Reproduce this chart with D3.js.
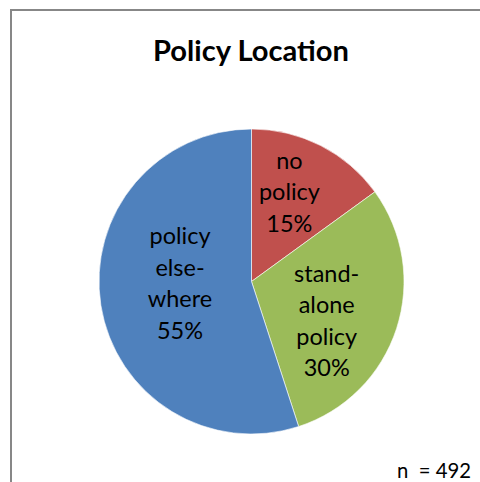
<!DOCTYPE html>
<html><head><meta charset="utf-8">
<script src="https://cdn.jsdelivr.net/npm/d3@7"></script>
<style>html,body{margin:0;padding:0;background:#fff;}svg{display:block;}</style>
</head><body>
<svg id="c" width="480" height="482"></svg>
<script>
const title = "Policy Location";
const categories = ["no policy", "stand-alone policy", "policy elsewhere"];
const labelLines = [["no","policy"],["stand-","alone","policy"],["policy","else-","where"]];
const values = [15, 30, 55];
const colors = ["#C0504D", "#9BBB59", "#4F81BD"];
const note = "n  = 492";

const svg = d3.select("#c");
const font = "Lato, 'Open Sans', sans-serif";
svg.append("rect").attr("x",11).attr("y",10).attr("width",480).attr("height",482)
  .attr("fill","#fff").attr("stroke","#878787").attr("stroke-width",2);

function fit(sel, target){
  const w = sel.node().getComputedTextLength();
  const f = +sel.attr("font-size");
  sel.attr("font-size", f*target/w);
  return f*target/w;
}

const tt = svg.append("text").attr("x",251).attr("y",61).attr("text-anchor","middle")
  .attr("font-family",font).attr("font-weight","bold").attr("font-size",24).attr("fill","#000").text(title);
fit(tt, 196);

const cx = 251.5, cy = 281.5, R = 152.5;
const pie = d3.pie().sort(null).value(d=>d)(values);
const arc = d3.arc().innerRadius(0).outerRadius(R);
const g = svg.append("g").attr("transform",`translate(${cx},${cy})`);
g.selectAll("path").data(pie).join("path").attr("d",arc)
  .attr("fill",(d,i)=>colors[i]).attr("stroke","#fff").attr("stroke-width",0.6);

// measure label font size so "policy" spans ~61px
const probe = svg.append("text").attr("font-family",font).attr("font-size",24).text("policy");
const fs = fit(probe, 61);
probe.remove();

const place = [[0.636,-4],[0.557,9.7],[0.469,7.4]];
const lh = 31.5;
pie.forEach((d,i)=>{
  const mid = (d.startAngle+d.endAngle)/2 + place[i][1]*Math.PI/180;
  const r = place[i][0]*R;
  const x = Math.sin(mid)*r, y = -Math.cos(mid)*r;
  const lines = labelLines[i].concat([d3.format(".0%")(values[i]/d3.sum(values))]);
  const t = g.append("text").attr("text-anchor","middle").attr("font-family",font)
    .attr("font-size",fs).attr("fill","#000");
  lines.forEach((s,k)=>{
    t.append("tspan").attr("x",x).attr("y", y + (k-(lines.length-1)/2)*lh + 0.35*fs).text(s);
  });
});

const nt = svg.append("text").attr("x",471).attr("y",478).attr("text-anchor","end")
  .attr("font-family",font).attr("font-size",20).attr("fill","#000").style("white-space","pre").text(note);
fit(nt, 74);
</script>
</body></html>
